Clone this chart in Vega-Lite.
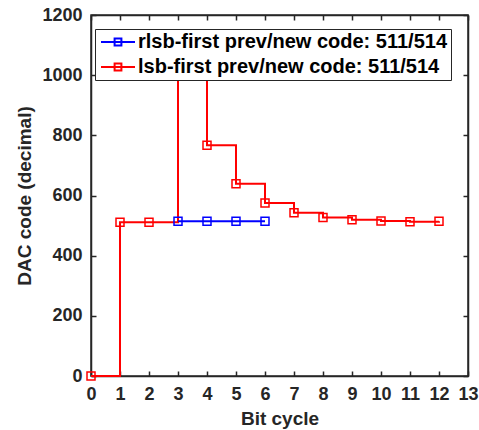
{
  "$schema": "https://vega.github.io/schema/vega-lite/v6.json",
  "width": 377,
  "height": 361,
  "autosize": "none",
  "padding": {"left": 91, "top": 15, "right": 11, "bottom": 54},
  "background": "white",
  "config": {
    "font": "Liberation Sans",
    "view": {"stroke": "#262626", "strokeWidth": 1.5},
    "axis": {
      "grid": false,
      "domainColor": "#262626",
      "domainWidth": 1.5,
      "tickColor": "#262626",
      "tickWidth": 1.5,
      "tickSize": -5,
      "labelFont": "Liberation Sans",
      "labelFontWeight": "bold",
      "labelFontSize": 18,
      "labelColor": "#262626",
      "titleFont": "Liberation Sans",
      "titleFontWeight": "bold",
      "titleFontSize": 19,
      "titleColor": "#262626"
    }
  },
  "data": {
    "values": [
      {"series": "lsb-first prev/new code: 511/514", "x": 0, "y": 0},
      {"series": "lsb-first prev/new code: 511/514", "x": 1, "y": 511},
      {"series": "lsb-first prev/new code: 511/514", "x": 2, "y": 511},
      {"series": "lsb-first prev/new code: 511/514", "x": 3, "y": 1023},
      {"series": "lsb-first prev/new code: 511/514", "x": 4, "y": 767},
      {"series": "lsb-first prev/new code: 511/514", "x": 5, "y": 639},
      {"series": "lsb-first prev/new code: 511/514", "x": 6, "y": 575},
      {"series": "lsb-first prev/new code: 511/514", "x": 7, "y": 543},
      {"series": "lsb-first prev/new code: 511/514", "x": 8, "y": 527},
      {"series": "lsb-first prev/new code: 511/514", "x": 9, "y": 519},
      {"series": "lsb-first prev/new code: 511/514", "x": 10, "y": 515},
      {"series": "lsb-first prev/new code: 511/514", "x": 11, "y": 513},
      {"series": "lsb-first prev/new code: 511/514", "x": 12, "y": 514},
      {"series": "rlsb-first prev/new code: 511/514", "x": 3, "y": 514},
      {"series": "rlsb-first prev/new code: 511/514", "x": 4, "y": 514},
      {"series": "rlsb-first prev/new code: 511/514", "x": 5, "y": 514},
      {"series": "rlsb-first prev/new code: 511/514", "x": 6, "y": 514}
    ]
  },
  "encoding": {
    "x": {"field": "x", "type": "quantitative", "scale": {"domain": [0, 13], "nice": false},
      "axis": {"values": [0,1,2,3,4,5,6,7,8,9,10,11,12,13], "title": "Bit cycle", "labelPadding": 14, "titlePadding": 6, "labelFlush": false}},
    "y": {"field": "y", "type": "quantitative", "scale": {"domain": [0, 1200], "nice": false},
      "axis": {"values": [0,200,400,600,800,1000,1200], "format": "d", "title": "DAC code (decimal)", "labelPadding": 14, "titlePadding": 7, "labelFlush": false}},
    "color": {"field": "series", "type": "nominal",
      "scale": {"domain": ["rlsb-first prev/new code: 511/514", "lsb-first prev/new code: 511/514"], "range": ["#0000FF", "#FF0000"]},
      "legend": {
        "orient": "none", "legendX": 4, "legendY": 14, "title": null,
        "direction": "vertical",
        "fillColor": "white", "strokeColor": "#262626", "padding": 3,
        "symbolType": "M-2,0H2M-0.4,-0.4H0.4V0.4H-0.4Z",
        "symbolSize": 289, "symbolStrokeWidth": 2, "symbolFillColor": "transparent",
        "symbolOffset": 10,
        "labelFont": "Liberation Sans", "labelFontWeight": "bold", "labelFontSize": 20, "labelColor": "#000000",
        "labelLimit": 500, "labelOffset": 10, "rowPadding": 5
      }
    }
  },
  "resolve": {"axis": {"x": "independent", "y": "independent"}},
  "layer": [
    {
      "transform": [{"filter": "datum.series === 'lsb-first prev/new code: 511/514'"}],
      "mark": {"type": "line", "interpolate": "step-after", "strokeWidth": 2,
        "point": {"shape": "square", "filled": false, "size": 64, "strokeWidth": 1.5}}
    },
    {
      "transform": [{"filter": "datum.series === 'rlsb-first prev/new code: 511/514'"}],
      "mark": {"type": "line", "interpolate": "step-after", "strokeWidth": 2,
        "point": {"shape": "square", "filled": false, "size": 64, "strokeWidth": 1.5}},
      "encoding": {
        "x": {"field": "x", "type": "quantitative", "axis": null},
        "y": {"field": "y", "type": "quantitative", "axis": null}
      }
    },
    {
      "transform": [{"filter": "datum.series === 'rlsb-first prev/new code: 511/514'"}],
      "mark": {"type": "point", "opacity": 0},
      "encoding": {
        "x": {"field": "x", "type": "quantitative",
          "axis": {"orient": "top", "values": [0,1,2,3,4,5,6,7,8,9,10,11,12,13], "labels": false, "title": null}},
        "y": {"field": "y", "type": "quantitative",
          "axis": {"orient": "right", "values": [0,200,400,600,800,1000,1200], "labels": false, "title": null}},
        "color": {"value": "transparent"}
      }
    }
  ]
}
